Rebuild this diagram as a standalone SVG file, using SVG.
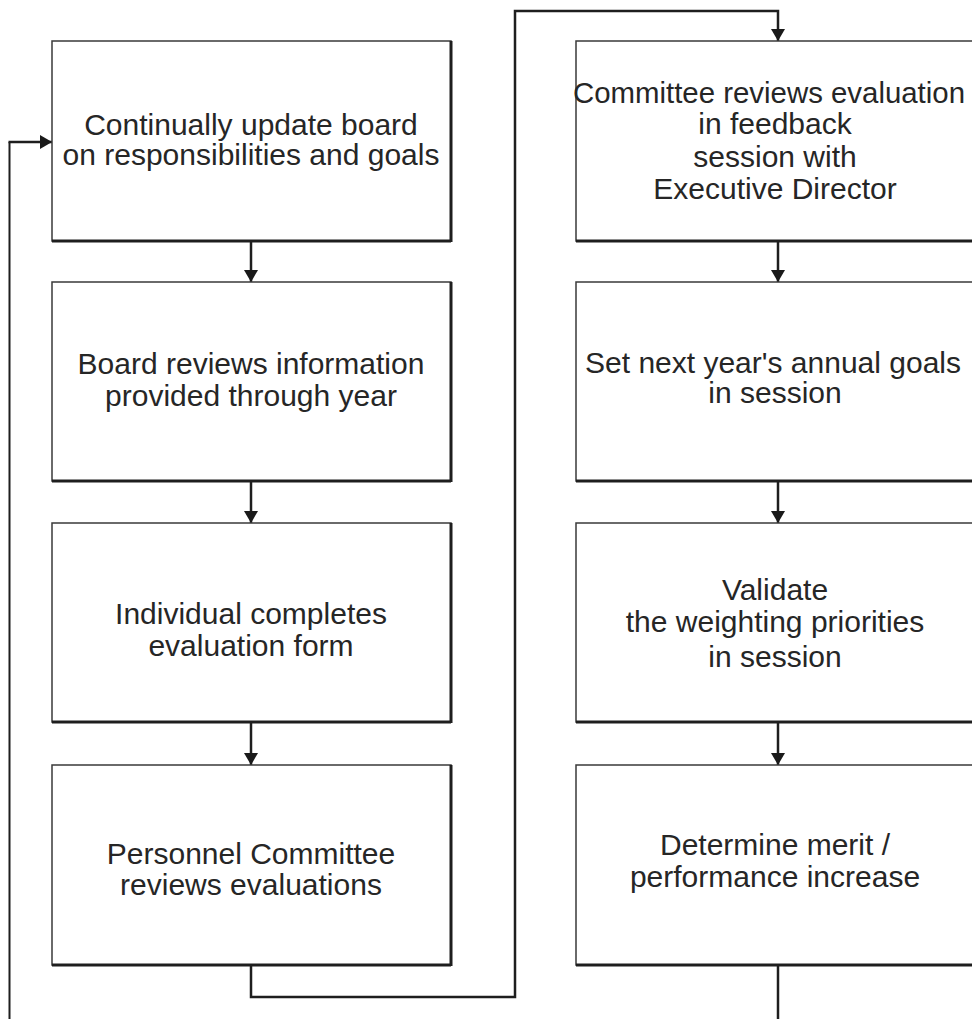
<svg xmlns="http://www.w3.org/2000/svg" width="972" height="1019" viewBox="0 0 972 1019">
  <defs>
    <marker id="ah" viewBox="0 0 12 14" refX="12" refY="7" markerWidth="13" markerHeight="14" orient="auto" markerUnits="userSpaceOnUse">
      <path d="M0,0 L12,7 L0,14 z" fill="#1a1a1a"/>
    </marker>
    <style>
      .box { fill: #ffffff; stroke: #3a3a3a; stroke-width: 1.5; }
      .sh { stroke: #1e1e1e; stroke-width: 3; fill: none; }
      .lbl { font-family: "Liberation Sans", Arial, sans-serif; font-size: 30px; fill: #262626; text-anchor: middle; }
      .con { fill: none; stroke: #1e1e1e; stroke-width: 2.5; }
      .thin { fill: none; stroke: #1e1e1e; stroke-width: 2; }
    </style>
  </defs>
  <rect width="972" height="1019" fill="#ffffff"/>

  <g id="connectors">
    <path class="thin" d="M9.5,1019 L9.5,142" />
    <path class="con" d="M8.5,142 L52,142" marker-end="url(#ah)"/>
    <path class="con" d="M251,241 L251,282" marker-end="url(#ah)"/>
    <path class="con" d="M251,481 L251,523" marker-end="url(#ah)"/>
    <path class="con" d="M251,722 L251,765" marker-end="url(#ah)"/>
    <path class="con" d="M251,965 L251,997 L515,997 L515,11 L778,11 L778,41" marker-end="url(#ah)"/>
    <path class="con" d="M778,241 L778,282" marker-end="url(#ah)"/>
    <path class="con" d="M778,481 L778,523" marker-end="url(#ah)"/>
    <path class="con" d="M778,722 L778,765" marker-end="url(#ah)"/>
    <path class="con" d="M778,965 L778,1019"/>
  </g>

  <g id="n1">
    <rect class="box" x="52" y="41" width="399" height="200"/>
    <path class="sh" d="M52,241 L451,241 M451,41 L451,242"/>
    <text class="lbl" x="251" y="135">Continually update board</text>
    <text class="lbl" x="251" y="165">on responsibilities and goals</text>
  </g>
  <g id="n2">
    <rect class="box" x="52" y="282" width="399" height="199"/>
    <path class="sh" d="M52,481 L451,481 M451,282 L451,482"/>
    <text class="lbl" x="251" y="374">Board reviews information</text>
    <text class="lbl" x="251" y="406">provided through year</text>
  </g>
  <g id="n3">
    <rect class="box" x="52" y="523" width="399" height="199"/>
    <path class="sh" d="M52,722 L451,722 M451,523 L451,723"/>
    <text class="lbl" x="251" y="624">Individual completes</text>
    <text class="lbl" x="251" y="656">evaluation form</text>
  </g>
  <g id="n4">
    <rect class="box" x="52" y="765" width="399" height="200"/>
    <path class="sh" d="M52,965 L451,965 M451,765 L451,966"/>
    <text class="lbl" x="251" y="864">Personnel Committee</text>
    <text class="lbl" x="251" y="895">reviews evaluations</text>
  </g>

  <g id="n5">
    <rect class="box" x="576" y="41" width="400" height="200"/>
    <path class="sh" d="M576,241 L976,241"/>
    <text class="lbl" x="769" y="103" style="font-size:29.4px">Committee reviews evaluation</text>
    <text class="lbl" x="775" y="134">in feedback</text>
    <text class="lbl" x="775" y="167">session with</text>
    <text class="lbl" x="775" y="199">Executive Director</text>
  </g>
  <g id="n6">
    <rect class="box" x="576" y="282" width="400" height="199"/>
    <path class="sh" d="M576,481 L976,481"/>
    <text class="lbl" x="773" y="373">Set next year's annual goals</text>
    <text class="lbl" x="775" y="403">in session</text>
  </g>
  <g id="n7">
    <rect class="box" x="576" y="523" width="400" height="199"/>
    <path class="sh" d="M576,722 L976,722"/>
    <text class="lbl" x="775" y="600">Validate</text>
    <text class="lbl" x="775" y="632">the weighting priorities</text>
    <text class="lbl" x="775" y="667">in session</text>
  </g>
  <g id="n8">
    <rect class="box" x="576" y="765" width="400" height="200"/>
    <path class="sh" d="M576,965 L976,965"/>
    <text class="lbl" x="775" y="855">Determine merit /</text>
    <text class="lbl" x="775" y="887">performance increase</text>
  </g>
</svg>
